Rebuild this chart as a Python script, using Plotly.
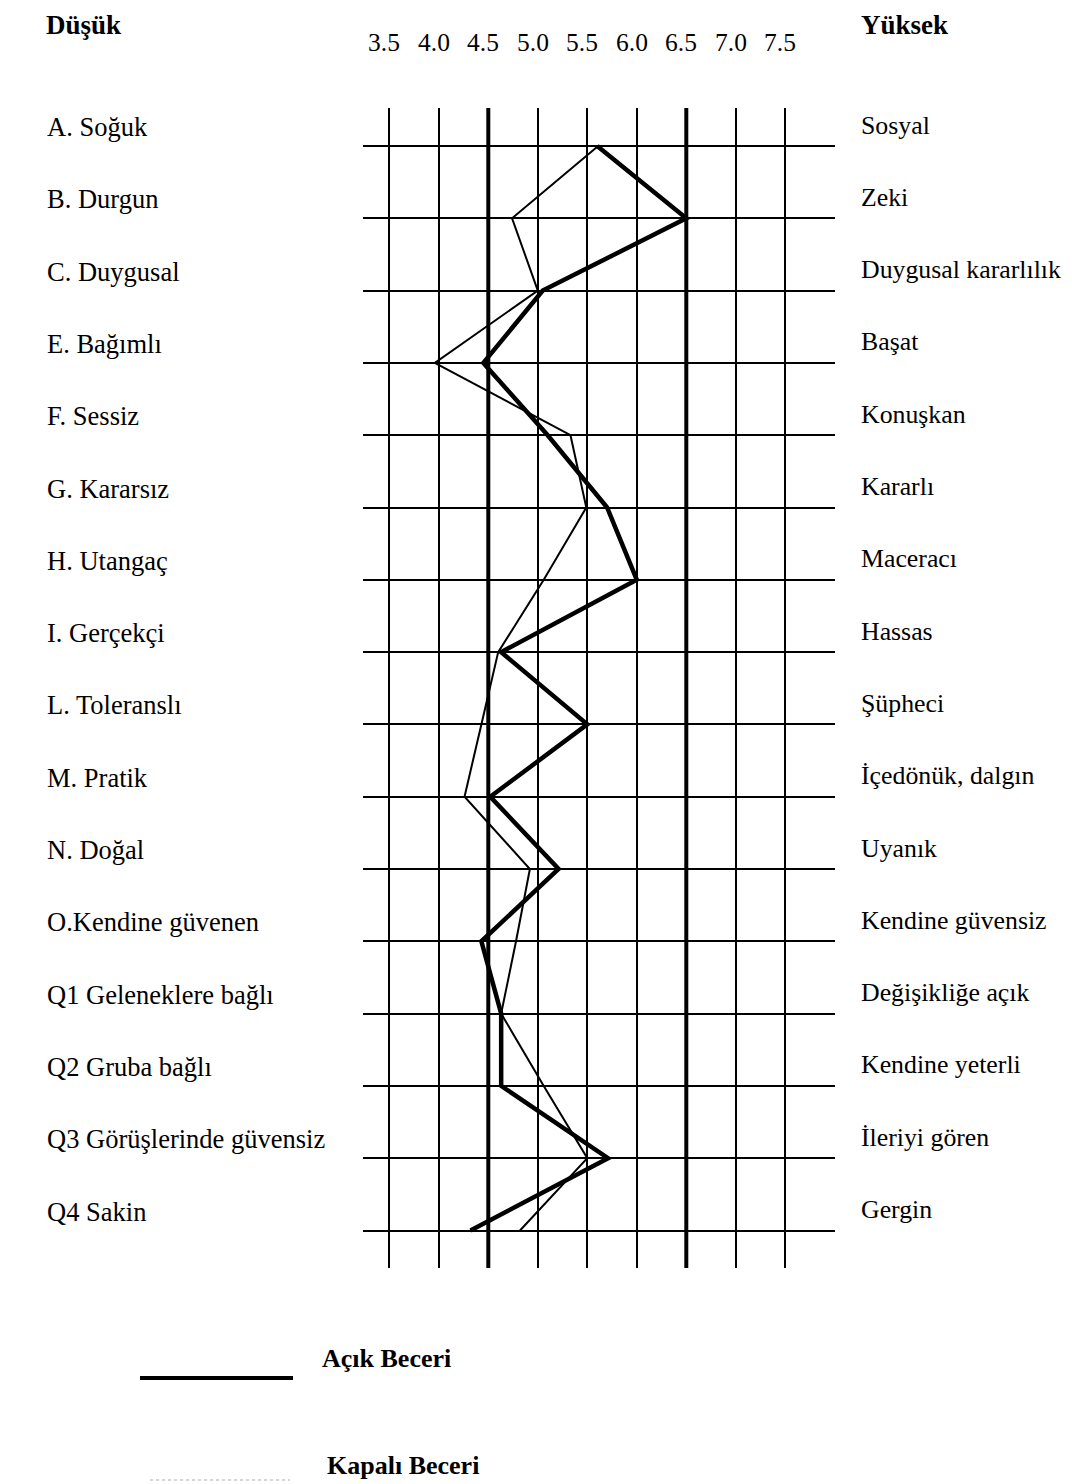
import plotly.graph_objects as go

# ---- data ----
left_labels = ["A. Soğuk", "B. Durgun", "C. Duygusal", "E. Bağımlı", "F. Sessiz",
               "G. Kararsız", "H. Utangaç", "I. Gerçekçi", "L. Toleranslı", "M. Pratik",
               "N. Doğal", "O.Kendine güvenen", "Q1 Geleneklere bağlı", "Q2 Gruba bağlı",
               "Q3 Görüşlerinde güvensiz", "Q4 Sakin"]
right_labels = ["Sosyal", "Zeki", "Duygusal kararlılık", "Başat", "Konuşkan", "Kararlı",
                "Maceracı", "Hassas", "Şüpheci", "İçedönük, dalgın", "Uyanık",
                "Kendine güvensiz", "Değişikliğe açık", "Kendine yeterli", "İleriyi gören",
                "Gergin"]
acik_beceri = [5.6, 6.5, 5.05, 4.45, 5.1, 5.7, 6.0, 4.63, 5.5, 4.52, 5.21, 4.43, 4.63, 4.63, 5.71, 4.32]
kapali_beceri = [5.61, 4.74, 5.0, 3.96, 5.33, 5.49, 5.06, 4.6, 4.43, 4.26, 4.92, 4.78, 4.63, 5.06, 5.5, 4.82]
tick_values = [3.5, 4.0, 4.5, 5.0, 5.5, 6.0, 6.5, 7.0, 7.5]
tick_labels = ["3.5", "4.0", "4.5", "5.0", "5.5", "6.0", "6.5", "7.0", "7.5"]
reference_lines = [4.5, 6.5]
header_left = "Düşük"
header_right = "Yüksek"
legend_names = ["Açık Beceri", "Kapalı Beceri"]

# ---- layout geometry (page pixels; page body has an 8px margin) ----
OFF = 8
W, H = 1072 - OFF, 1484 - OFF
L, R, T, B = 363, 835, 108, 1268   # plot area in page pixels
rows = list(range(len(left_labels)))

def px(x):
    return (x - L) / (R - L)

def py(y):
    return (B - y) / (B - T)

FONT = "Liberation Serif, Times New Roman, serif"
FS = 26.5

fig = go.Figure()
fig.add_trace(go.Scatter(x=kapali_beceri, y=rows, mode="lines",
                         line=dict(color="black", width=2), name=legend_names[1],
                         showlegend=False, hoverinfo="skip"))
fig.add_trace(go.Scatter(x=acik_beceri, y=rows, mode="lines",
                         line=dict(color="black", width=4.5), name=legend_names[0],
                         showlegend=False, hoverinfo="skip"))

shapes = []
for v in reference_lines:
    shapes.append(dict(type="line", xref="x", yref="paper", x0=v, x1=v, y0=0, y1=1,
                       line=dict(color="black", width=4), layer="above"))
# legend samples
shapes.append(dict(type="line", xref="paper", yref="paper", x0=px(140), x1=px(293),
                   y0=py(1378), y1=py(1378), line=dict(color="black", width=4)))
shapes.append(dict(type="line", xref="paper", yref="paper", x0=px(150), x1=px(290),
                   y0=py(1480), y1=py(1480), line=dict(color="#c8c8c8", width=1.5, dash="dot")))

ann = []
for i, t in enumerate(left_labels):
    ann.append(dict(x=px(45), xref="paper", y=i, yref="y", yshift=19, text=t,
                    showarrow=False, xanchor="left", yanchor="middle",
                    font=dict(family=FONT, size=FS, color="black")))
for i, t in enumerate(right_labels):
    ann.append(dict(x=px(859), xref="paper", y=i, yref="y", yshift=21, text=t,
                    showarrow=False, xanchor="left", yanchor="middle",
                    font=dict(family=FONT, size=25.8, color="black")))
for v, t in zip(tick_values, tick_labels):
    ann.append(dict(x=v, xref="x", y=py(43), yref="paper", text=t, xshift=-5,
                    showarrow=False, xanchor="center", yanchor="middle",
                    font=dict(family=FONT, size=25.5, color="black")))
ann.append(dict(x=px(45), xref="paper", y=py(8.5), yref="paper", text="<b>%s</b>" % header_left,
                showarrow=False, xanchor="left", yanchor="top", borderpad=0,
                font=dict(family=FONT, size=27, color="black")))
ann.append(dict(x=px(860), xref="paper", y=py(8.5), yref="paper", text="<b>%s</b>" % header_right,
                showarrow=False, xanchor="left", yanchor="top", borderpad=0,
                font=dict(family=FONT, size=27, color="black")))
ann.append(dict(x=px(320), xref="paper", y=py(1358), yref="paper", text="<b>%s</b>" % legend_names[0],
                showarrow=False, xanchor="left", yanchor="middle",
                font=dict(family=FONT, size=26, color="black")))
ann.append(dict(x=px(325), xref="paper", y=py(1465), yref="paper", text="<b>%s</b>" % legend_names[1],
                showarrow=False, xanchor="left", yanchor="middle",
                font=dict(family=FONT, size=26, color="black")))

ppu = 99.0  # pixels per unit of x
x_lo = 3.5 + (L - 389.3) / ppu
x_hi = x_lo + (R - L) / ppu
row_px = 72.3
y_top = (T - 146) / row_px
y_bot = (B - 146) / row_px

fig.update_layout(
    width=W, height=H, autosize=False,
    margin=dict(l=L - OFF, r=(W + OFF) - R, t=T - OFF, b=(H + OFF) - B, pad=0),
    paper_bgcolor="white", plot_bgcolor="white",
    xaxis=dict(range=[x_lo, x_hi], tickvals=tick_values, showticklabels=False,
               showgrid=True, gridcolor="black", gridwidth=2, zeroline=False,
               showline=False, ticks="", fixedrange=True),
    yaxis=dict(range=[y_bot, y_top], tickvals=rows, showticklabels=False,
               showgrid=True, gridcolor="black", gridwidth=2, zeroline=False,
               showline=False, ticks="", fixedrange=True),
    shapes=shapes, annotations=ann, showlegend=False,
)

fig.write_html("out.html")
